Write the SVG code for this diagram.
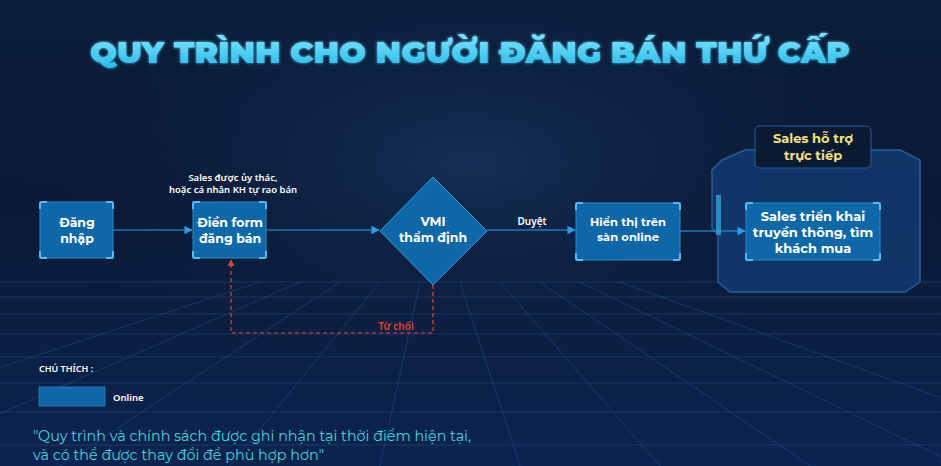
<svg xmlns="http://www.w3.org/2000/svg" width="941" height="466" viewBox="0 0 941 466">
<defs>
<linearGradient id="bg" x1="0" y1="0" x2="0" y2="1">
<stop offset="0" stop-color="#0b1e3c"/>
<stop offset="0.45" stop-color="#0a1a36"/>
<stop offset="1" stop-color="#0c2450"/>
</linearGradient>
<radialGradient id="glow" cx="0.5" cy="0.35" r="0.5">
<stop offset="0" stop-color="#17345e" stop-opacity="0.8"/>
<stop offset="1" stop-color="#0a1a36" stop-opacity="0"/>
</radialGradient>
<linearGradient id="tg" x1="0" y1="0" x2="0" y2="1">
<stop offset="0" stop-color="#7fe6ff"/>
<stop offset="1" stop-color="#22b8e8"/>
</linearGradient>
<marker id="arr" viewBox="0 0 10 10" refX="9" refY="5" markerWidth="7" markerHeight="7" orient="auto">
<path d="M0,0 L10,5 L0,10 z" fill="#2f9be8"/>
</marker>
<marker id="arrRed" viewBox="0 0 10 10" refX="9" refY="5" markerWidth="6" markerHeight="6" orient="auto">
<path d="M0,0 L10,5 L0,10 z" fill="#e0452e"/>
</marker>
<filter id="tglow" x="-10%" y="-50%" width="120%" height="200%">
<feGaussianBlur stdDeviation="1.5" result="b"/>
<feMerge><feMergeNode in="b"/><feMergeNode in="SourceGraphic"/></feMerge>
</filter>
</defs>
<style>
.box{fill:#0e67a6;stroke:#2a87c8;stroke-width:1}
.br{fill:none;stroke:#5bb8f0;stroke-width:2}
.lbl{font-family:"Montserrat","Noto Sans","Liberation Sans",sans-serif;font-weight:700;fill:#ffffff;text-anchor:middle}
.con{stroke:#2f9be8;stroke-width:1.2;fill:none}
.dash{stroke:#e0452e;stroke-width:1.2;fill:none;stroke-dasharray:4 3}
.grid{stroke:#2d5a95;stroke-width:0.8;opacity:0.5}
.small{font-family:"Noto Sans","Liberation Sans",sans-serif;font-weight:600;fill:#ffffff}
</style>
<rect width="941" height="466" fill="url(#bg)"/>
<rect width="941" height="466" fill="url(#glow)"/>
<g id="grid">
<line class="grid" x1="0" y1="282" x2="941" y2="282"/>
<line class="grid" x1="0" y1="297" x2="941" y2="297"/>
<line class="grid" x1="0" y1="314" x2="941" y2="314"/>
<line class="grid" x1="0" y1="334" x2="941" y2="334"/>
<line class="grid" x1="0" y1="357" x2="941" y2="357"/>
<line class="grid" x1="0" y1="383" x2="941" y2="383"/>
<line class="grid" x1="0" y1="412" x2="941" y2="412"/>
<line class="grid" x1="0" y1="445" x2="941" y2="445"/>
<line class="grid" x1="300" y1="282" x2="-120" y2="466"/>
<line class="grid" x1="340" y1="282" x2="60" y2="466"/>
<line class="grid" x1="380" y1="282" x2="230" y2="466"/>
<line class="grid" x1="420" y1="282" x2="380" y2="466"/>
<line class="grid" x1="460" y1="282" x2="520" y2="466"/>
<line class="grid" x1="500" y1="282" x2="660" y2="466"/>
<line class="grid" x1="540" y1="282" x2="810" y2="466"/>
<line class="grid" x1="580" y1="282" x2="960" y2="466"/>
<line class="grid" x1="260" y1="282" x2="-300" y2="466"/>
<line class="grid" x1="620" y1="282" x2="1130" y2="466"/>
</g>
<g id="title">
<text x="470" y="63" font-family="Montserrat,'Lato','Liberation Sans',sans-serif" font-weight="900" font-size="31" fill="url(#tg)" text-anchor="middle" filter="url(#tglow)" textLength="760" lengthAdjust="spacingAndGlyphs">QUY TRÌNH CHO NGƯỜI ĐĂNG BÁN THỨ CẤP</text>
</g>
<g id="panel">
<path d="M722,160 L745,150 L900,150 L920,160 L920,282 L905,292 L730,292 L718,282 L718,235 L712,228 L712,170 Z" fill="#123a70" fill-opacity="0.85" stroke="#2a5c98" stroke-width="1.5"/>
<rect x="716" y="195" width="5" height="40" fill="#2a8cc0"/>
</g>
<g id="connectors">
<line class="con" x1="113" y1="230" x2="192" y2="230" marker-end="url(#arr)"/>
<line class="con" x1="266" y1="230" x2="379" y2="230" marker-end="url(#arr)"/>
<line class="con" x1="487" y1="230" x2="575" y2="230" marker-end="url(#arr)"/>
<line class="con" x1="680" y1="231" x2="745" y2="231" marker-end="url(#arr)"/>
<path class="dash" d="M433,285 L433,333 L231,333 L231,260" marker-end="url(#arrRed)"/>
<text x="532" y="225" class="small" font-size="10" text-anchor="middle">Duyệt</text>
<text x="396" y="330" font-family="'Noto Sans','Liberation Sans',sans-serif" font-weight="600" font-size="10" fill="#e0452e" text-anchor="middle">Từ chối</text>
</g>
<g id="note">
<text x="233" y="181" class="small" font-size="9.5" text-anchor="middle">Sales được ủy thác,</text>
<text x="233" y="193" class="small" font-size="9.5" text-anchor="middle">hoặc cá nhân KH tự rao bán</text>
</g>
<g id="n-dangnhap">
<rect class="box" x="40" y="202" width="73" height="56"/>
<path class="br" d="M40,209 V204 Q40,202 42,202 H47 M106,202 H111 Q113,202 113,204 V209 M113,251 V256 Q113,258 111,258 H106 M47,258 H42 Q40,258 40,256 V251"/>
<text class="lbl" x="77" y="227" font-size="12.5">Đăng</text>
<text class="lbl" x="77" y="243" font-size="12.5">nhập</text>
</g>
<g id="n-dienform">
<rect class="box" x="193" y="202" width="73" height="56"/>
<path class="br" d="M193,209 V204 Q193,202 195,202 H200 M259,202 H264 Q266,202 266,204 V209 M266,251 V256 Q266,258 264,258 H259 M200,258 H195 Q193,258 193,256 V251"/>
<text class="lbl" x="230" y="227" font-size="12.5">Điền form</text>
<text class="lbl" x="230" y="243" font-size="12.5">đăng bán</text>
</g>
<g id="n-vmi">
<path d="M433,177 L487,231 L433,285 L380,231 Z" fill="#0e67a6" stroke="#3a9ad8" stroke-width="1"/>
<text class="lbl" x="433" y="226" font-size="12.5">VMI</text>
<text class="lbl" x="433" y="242" font-size="12.5">thẩm định</text>
</g>
<g id="n-hienthi">
<rect class="box" x="576" y="203" width="104" height="57"/>
<path class="br" d="M576,210 V205 Q576,203 578,203 H583 M673,203 H678 Q680,203 680,205 V210 M680,253 V258 Q680,260 678,260 H673 M583,260 H578 Q576,260 576,258 V253"/>
<text class="lbl" x="628" y="226" font-size="11.5">Hiển thị trên</text>
<text class="lbl" x="628" y="241" font-size="11.5">sàn online</text>
</g>
<g id="n-sales">
<rect class="box" x="746" y="203" width="134" height="57"/>
<path class="br" d="M746,210 V205 Q746,203 748,203 H753 M873,203 H878 Q880,203 880,205 V210 M880,253 V258 Q880,260 878,260 H873 M753,260 H748 Q746,260 746,258 V253"/>
<text class="lbl" x="813" y="221" font-size="13">Sales triển khai</text>
<text class="lbl" x="813" y="237" font-size="13">truyền thông, tìm</text>
<text class="lbl" x="813" y="253" font-size="13">khách mua</text>
</g>
<g id="n-saleshotro">
<rect x="755" y="126" width="116" height="42" rx="5" fill="#0b1a33" stroke="#2a5c98" stroke-width="1"/>
<text class="lbl" x="813" y="143" font-size="13" style="fill:#f3e27a">Sales hỗ trợ</text>
<text class="lbl" x="813" y="160" font-size="13" style="fill:#f3e27a">trực tiếp</text>
</g>
<g id="legend">
<text x="39" y="372" class="small" font-size="9" font-weight="800">CHÚ THÍCH :</text>
<rect x="39" y="387" width="66" height="19" fill="#0e67a6" stroke="#2a87c8" stroke-width="0.8"/>
<text x="113" y="401" class="small" font-size="9.5">Online</text>
</g>
<g id="quote">
<text x="33" y="441" font-family="'Montserrat','Noto Sans','Liberation Sans',sans-serif" font-size="15.5" fill="#3fd6dc" textLength="438" lengthAdjust="spacingAndGlyphs">"Quy trình và chính sách được ghi nhận tại thời điểm hiện tại,</text>
<text x="33" y="460" font-family="'Montserrat','Noto Sans','Liberation Sans',sans-serif" font-size="15.5" fill="#3fd6dc" textLength="291" lengthAdjust="spacingAndGlyphs">và có thể được thay đổi để phù hợp hơn"</text>
</g>
</svg>
